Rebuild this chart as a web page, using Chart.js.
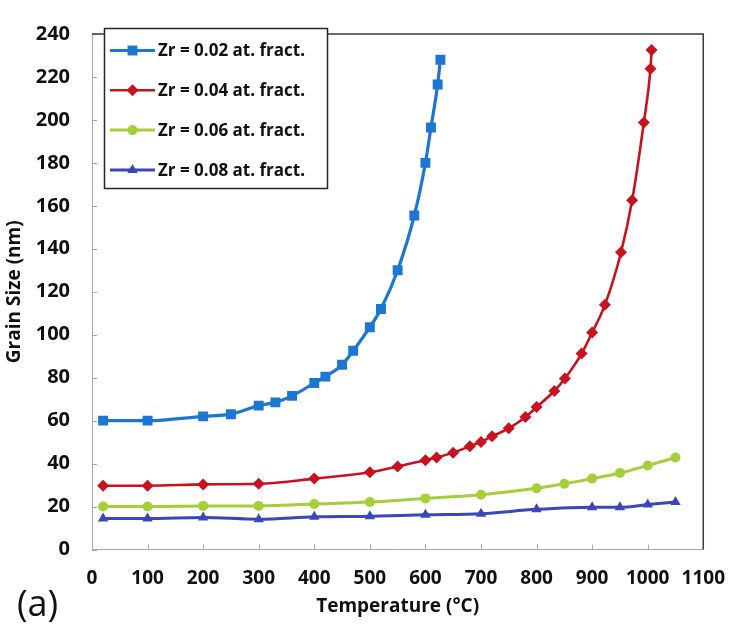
<!DOCTYPE html>
<html>
<head>
<meta charset="utf-8">
<title>Grain Size vs Temperature</title>
<script src="https://cdn.jsdelivr.net/npm/chart.js@4.4.1/dist/chart.umd.min.js"></script>
<style>
  html, body { margin: 0; padding: 0; background: #fff; }
  #wrap { width: 743px; height: 644px; }
</style>
</head>
<body>
<div id="wrap"><canvas id="grainChart" width="743" height="644"></canvas></div>
<script>
// ---- data: annealing temperature (°C) vs grain size (nm) ----
const SERIES_LABELS = [
    'Zr = 0.02 at. fract.',
    'Zr = 0.04 at. fract.',
    'Zr = 0.06 at. fract.',
    'Zr = 0.08 at. fract.'
];

const tempZr02 = [20, 100, 200, 250, 300, 330, 360, 400, 420, 450, 470, 500, 520, 550, 580, 600, 610, 622, 627];
const sizeZr02 = [60, 60, 62, 63, 67, 68.5, 71.5, 77.5, 80.5, 86, 92.5, 103.5, 112, 130, 155.5, 180, 196.5, 216.5, 228];

const tempZr04 = [20, 100, 200, 300, 400, 500, 550, 600, 620, 650, 680, 700, 720, 750, 780, 800, 832, 851, 881, 900, 923, 952, 972, 993, 1005, 1007];
const sizeZr04 = [29.7, 29.7, 30.3, 30.6, 33, 36, 38.6, 41.6, 42.8, 45.1, 48.1, 50.1, 52.7, 56.4, 61.7, 66.3, 73.8, 79.6, 91.2, 101, 113.9, 138.4, 162.6, 198.8, 223.8, 232.5];

const tempZr06 = [20, 100, 200, 300, 400, 500, 600, 700, 800, 850, 900, 950, 1000, 1050];
const sizeZr06 = [20, 20, 20.3, 20.3, 21.2, 22.1, 23.8, 25.5, 28.5, 30.6, 33, 35.6, 39.1, 42.8];

const tempZr08 = [20, 100, 200, 300, 400, 500, 600, 700, 800, 900, 950, 1000, 1050];
const sizeZr08 = [14.4, 14.4, 14.9, 14.1, 15.2, 15.5, 16.2, 16.7, 18.7, 19.7, 19.7, 20.9, 22.1];

const X_MIN = 0, X_MAX = 1100, X_STEP = 100;
const Y_MIN = 0, Y_MAX = 240, Y_STEP = 20;

// ---- styling ----
const COLORS = ['#1c76d2', '#c8121f', '#a5cf3a', '#3b47b8'];
const POINT_STYLES = ['rect', 'rectRot', 'circle', 'triangle'];
const POINT_RADII = [7, 6, 5, 6];
const LINE_WIDTHS = [3.2, 2.6, 3, 3];
const FONT = '"Open Sans", "Liberation Sans", sans-serif';

function toPoints(xs, ys) {
    return xs.map((x, i) => ({ x: x, y: ys[i] }));
}

const seriesData = [
    toPoints(tempZr02, sizeZr02),
    toPoints(tempZr04, sizeZr04),
    toPoints(tempZr06, sizeZr06),
    toPoints(tempZr08, sizeZr08)
];

const datasets = seriesData.map((pts, i) => ({
    label: SERIES_LABELS[i],
    data: pts,
    showLine: true,
    borderColor: COLORS[i],
    backgroundColor: COLORS[i],
    borderWidth: LINE_WIDTHS[i],
    pointStyle: POINT_STYLES[i],
    pointRadius: POINT_RADII[i],
    pointBorderWidth: 0,
    cubicInterpolationMode: 'monotone'
}));

// plot frame, inward tick marks, boxed legend and panel tag
const framePlugin = {
    id: 'framePlugin',
    beforeDraw(chart) {
        const ctx = chart.ctx;
        ctx.save();
        ctx.fillStyle = '#fff';
        ctx.fillRect(0, 0, chart.width, chart.height);
        ctx.restore();
    },
    afterDatasetsDraw(chart) {
        const ctx = chart.ctx;
        const a = chart.chartArea;
        const xs = chart.scales.x, ys = chart.scales.y;
        ctx.save();

        // light axis lines + small inner ticks
        ctx.strokeStyle = '#a8a8a8';
        ctx.lineWidth = 1;
        ctx.beginPath();
        ctx.moveTo(a.left + 0.5, a.top);
        ctx.lineTo(a.left + 0.5, a.bottom);
        ctx.lineTo(a.right, a.bottom);
        xs.ticks.forEach(t => {
            const px = Math.round(xs.getPixelForValue(t.value)) + 0.5;
            ctx.moveTo(px, a.bottom);
            ctx.lineTo(px, a.bottom - 5);
        });
        ys.ticks.forEach(t => {
            const py = Math.round(ys.getPixelForValue(t.value)) + 0.5;
            ctx.moveTo(a.left, py);
            ctx.lineTo(a.left + 5, py);
        });
        ctx.stroke();

        // dark top/right frame
        ctx.strokeStyle = '#3a3a3a';
        ctx.lineWidth = 1.5;
        ctx.beginPath();
        ctx.moveTo(a.left, a.top);
        ctx.lineTo(a.right, a.top);
        ctx.lineTo(a.right, a.bottom);
        ctx.stroke();

        // legend box
        const box = { x: 104.5, y: 28.5, w: 223, h: 160 };
        ctx.fillStyle = '#fff';
        ctx.fillRect(box.x, box.y, box.w, box.h);
        ctx.strokeStyle = '#262626';
        ctx.lineWidth = 1.5;
        ctx.strokeRect(box.x, box.y, box.w, box.h);

        chart.data.datasets.forEach((ds, i) => {
            const cy = 50.5 + i * 39.8;
            ctx.strokeStyle = ds.borderColor;
            ctx.lineWidth = ds.borderWidth;
            ctx.beginPath();
            ctx.moveTo(110, cy);
            ctx.lineTo(155, cy);
            ctx.stroke();
            ctx.fillStyle = ds.backgroundColor;
            Chart.helpers.drawPoint(ctx, {
                pointStyle: ds.pointStyle,
                radius: ds.pointRadius,
                rotation: 0,
                borderWidth: 0
            }, 132.5, cy);
            ctx.fillStyle = '#111';
            ctx.font = 'bold 17px ' + FONT;
            ctx.textBaseline = 'middle';
            ctx.textAlign = 'left';
            ctx.fillText(ds.label, 158, cy + 1);
        });

        // panel tag
        ctx.fillStyle = '#111';
        ctx.font = '36px ' + FONT;
        ctx.textBaseline = 'middle';
        ctx.textAlign = 'left';
        ctx.fillText('(a)', 17, 606);
        ctx.restore();
    }
};

new Chart(document.getElementById('grainChart'), {
    type: 'scatter',
    data: { datasets },
    plugins: [framePlugin],
    options: {
        responsive: false,
        animation: false,
        layout: { padding: { top: 20, right: 33, bottom: 0, left: 0 } },
        plugins: {
            legend: { display: false },
            tooltip: { enabled: false }
        },
        scales: {
            x: {
                type: 'linear',
                min: X_MIN,
                max: X_MAX,
                afterFit(scale) { scale.height = 94.5; },
                afterBuildTicks(scale) {
                    scale.ticks = [];
                    for (let v = X_MIN; v <= X_MAX; v += X_STEP) scale.ticks.push({ value: v });
                },
                grid: { display: false, drawTicks: false },
                border: { display: false },
                ticks: {
                    padding: 18,
                    color: '#111',
                    font: { family: FONT, size: 19, weight: 'bold' },
                    maxRotation: 0,
                    autoSkip: false,
                    callback: v => String(v)
                },
                title: {
                    display: true,
                    text: 'Temperature (°C)',
                    color: '#111',
                    font: { family: FONT, size: 19, weight: 'bold' },
                    padding: { bottom: 26 }
                }
            },
            y: {
                type: 'linear',
                min: Y_MIN,
                max: Y_MAX,
                afterFit(scale) { scale.width = 92; },
                afterBuildTicks(scale) {
                    scale.ticks = [];
                    for (let v = Y_MIN; v <= Y_MAX; v += Y_STEP) scale.ticks.push({ value: v });
                },
                grid: { display: false, drawTicks: false },
                border: { display: false },
                ticks: {
                    padding: 22,
                    color: '#111',
                    font: { family: FONT, size: 20, weight: 'bold' },
                    autoSkip: false,
                    callback: v => String(v)
                },
                title: {
                    display: true,
                    text: 'Grain Size (nm)',
                    color: '#111',
                    font: { family: FONT, size: 19, weight: 'bold' },
                    padding: { top: 3 }
                }
            }
        }
    }
});
</script>
</body>
</html>
